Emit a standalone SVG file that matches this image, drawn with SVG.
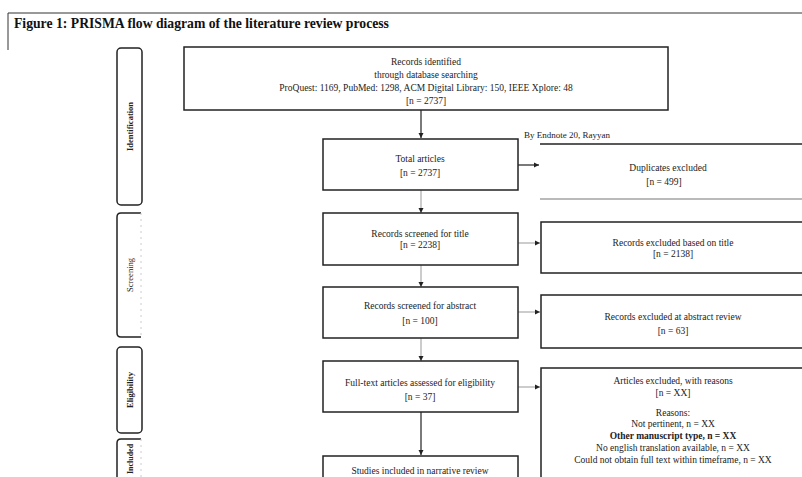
<svg xmlns="http://www.w3.org/2000/svg" width="802" height="477" viewBox="0 0 802 477">
<defs>
<marker id="ah" markerWidth="6" markerHeight="6" refX="5" refY="3" orient="auto" markerUnits="userSpaceOnUse">
<path d="M0,0.5 L5,3 L0,5.5 Z" fill="#222"/>
</marker>
<style>
.box{fill:#fff;stroke:#222;stroke-width:1.5}
.t{font-family:"Liberation Serif","Times New Roman",serif;font-size:9.5px;fill:#222;text-anchor:middle}
.lab{font-family:"Liberation Serif","Times New Roman",serif;font-size:8.5px;fill:#222;text-anchor:middle;font-weight:bold}
.side{fill:#fff;stroke:#222;stroke-width:1.5}
.c{stroke:#222;stroke-width:1.2;fill:none}
.cl{stroke:#999;stroke-width:1;fill:none}
</style>
</defs>
<rect width="802" height="477" fill="#fff"/>
<g id="title">
<line x1="8" y1="13" x2="802" y2="13" stroke="#333" stroke-width="1"/>
<line x1="8" y1="13" x2="8" y2="50" stroke="#333" stroke-width="1"/>
<text x="14" y="27.5" font-family="Liberation Serif, Times New Roman, serif" font-size="13.7" font-weight="bold" fill="#111">Figure 1: PRISMA flow diagram of the literature review process</text>
</g>
<g id="label-identification">
<rect class="side" x="117" y="48" width="25" height="157" rx="4"/>
<text class="lab" transform="translate(132.5,126.5) rotate(-90)">Identification</text>
</g>
<g id="label-screening">
<path class="side" d="M141,213 L121,213 Q117,213 117,217 L117,333 Q117,337 121,337 L141,337" fill="none"/>
<line x1="141" y1="213" x2="141" y2="337" stroke="#ccc" stroke-width="1" stroke-dasharray="2,4"/>
<text class="lab" style="font-weight:normal" fill="#444" transform="translate(132.5,275) rotate(-90)">Screening</text>
</g>
<g id="label-eligibility">
<rect class="side" x="117" y="347" width="25" height="86" rx="4"/>
<text class="lab" transform="translate(132.5,390) rotate(-90)">Eligibility</text>
</g>
<g id="label-included">
<path class="side" d="M141,439 L121,439 Q117,439 117,443 L117,480" fill="none"/>
<line x1="141" y1="439" x2="141" y2="477" stroke="#ccc" stroke-width="1" stroke-dasharray="2,4"/>
<text class="lab" font-size="8" style="font-size:8px" transform="translate(132.5,459) rotate(-90)">Included</text>
</g>
<g id="connectors">
<line class="c" x1="421" y1="110" x2="421" y2="138" marker-end="url(#ah)"/>
<line class="c" x1="518" y1="165" x2="539" y2="165" marker-end="url(#ah)"/>
<line class="cl" x1="421" y1="190" x2="421" y2="213" marker-end="url(#ah)"/>
<line class="cl" x1="518" y1="243" x2="540" y2="243" marker-end="url(#ah)"/>
<line class="cl" x1="421" y1="265" x2="421" y2="287" marker-end="url(#ah)"/>
<line class="cl" x1="518" y1="312" x2="540" y2="312" marker-end="url(#ah)"/>
<line class="cl" x1="421" y1="338" x2="421" y2="361" marker-end="url(#ah)"/>
<line class="cl" x1="518" y1="387" x2="540" y2="387" marker-end="url(#ah)"/>
<line class="c" x1="421" y1="412" x2="421" y2="455" stroke-width="1.6" marker-end="url(#ah)"/>
</g>
<g id="records-identified">
<rect class="box" x="184" y="47" width="484" height="63"/>
<text class="t" x="426" y="65">Records identified</text>
<text class="t" x="426" y="78">through database searching</text>
<text class="t" x="426" y="91">ProQuest: 1169, PubMed: 1298, ACM Digital Library: 150, IEEE Xplore: 48</text>
<text class="t" x="426" y="104">[n = 2737]</text>
</g>
<g id="total-articles">
<rect class="box" x="323" y="139" width="195" height="51"/>
<text class="t" x="420" y="162">Total articles</text>
<text class="t" x="420" y="176">[n = 2737]</text>
</g>
<g id="duplicates">
<text x="524" y="138" font-family="Liberation Serif, Times New Roman, serif" font-size="9" fill="#222">By Endnote 20, Rayyan</text>
<line x1="540" y1="144" x2="802" y2="144" stroke="#222" stroke-width="1.5"/>
<line x1="540" y1="199" x2="802" y2="199" stroke="#777" stroke-width="1.2"/>
<text class="t" x="668" y="171">Duplicates excluded</text>
<text class="t" x="664" y="185">[n = 499]</text>
</g>
<g id="screened-title">
<rect class="box" x="323" y="213" width="195" height="52"/>
<text class="t" x="420" y="237">Records screened for title</text>
<text class="t" x="420" y="248">[n = 2238]</text>
</g>
<g id="excluded-title">
<rect class="box" x="541" y="222" width="270" height="51"/>
<text class="t" x="673" y="246">Records excluded based on title</text>
<text class="t" x="673" y="257">[n = 2138]</text>
</g>
<g id="screened-abstract">
<rect class="box" x="323" y="287" width="195" height="51"/>
<text class="t" x="420" y="309">Records screened for abstract</text>
<text class="t" x="420" y="324">[n = 100]</text>
</g>
<g id="excluded-abstract">
<rect class="box" x="541" y="295" width="270" height="53"/>
<text class="t" x="673" y="320">Records excluded at abstract review</text>
<text class="t" x="673" y="334">[n = 63]</text>
</g>
<g id="full-text">
<rect class="box" x="323" y="361" width="195" height="51"/>
<text class="t" x="420" y="386">Full-text articles assessed for eligibility</text>
<text class="t" x="420" y="400">[n = 37]</text>
</g>
<g id="excluded-reasons">
<rect class="box" x="541" y="368" width="270" height="120"/>
<text class="t" x="673" y="384">Articles excluded, with reasons</text>
<text class="t" x="673" y="396">[n = XX]</text>
<text class="t" x="673" y="416">Reasons:</text>
<text class="t" x="673" y="427">Not pertinent, n = XX</text>
<text class="t" x="673" y="439" font-weight="bold">Other manuscript type, n = XX</text>
<text class="t" x="673" y="451">No english translation available, n = XX</text>
<text class="t" x="673" y="463">Could not obtain full text within timeframe, n = XX</text>
</g>
<g id="included">
<rect class="box" x="323" y="456" width="195" height="40"/>
<text class="t" x="420" y="474">Studies included in narrative review</text>
</g>
</svg>
